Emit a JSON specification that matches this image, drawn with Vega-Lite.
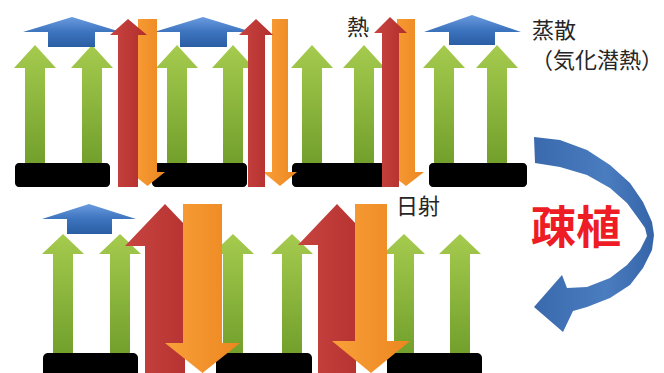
{
  "$schema": "https://vega.github.io/schema/vega-lite/v6.json",
  "width": 664,
  "height": 373,
  "autosize": {"type": "fit", "contains": "padding"},
  "padding": 0,
  "background": "#ffffff",
  "config": {"view": {"stroke": null}},
  "datasets": {
    "polys": [
      {"s":"g1","i":0,"x":25,"y":163},{"s":"g1","i":1,"x":25,"y":68},{"s":"g1","i":2,"x":14,"y":68},{"s":"g1","i":3,"x":35,"y":45},{"s":"g1","i":4,"x":56,"y":68},{"s":"g1","i":5,"x":45,"y":68},{"s":"g1","i":6,"x":45,"y":163},
      {"s":"g2","i":0,"x":82,"y":163},{"s":"g2","i":1,"x":82,"y":68},{"s":"g2","i":2,"x":71,"y":68},{"s":"g2","i":3,"x":92,"y":45},{"s":"g2","i":4,"x":113,"y":68},{"s":"g2","i":5,"x":102,"y":68},{"s":"g2","i":6,"x":102,"y":163},
      {"s":"g3","i":0,"x":167,"y":163},{"s":"g3","i":1,"x":167,"y":68},{"s":"g3","i":2,"x":156,"y":68},{"s":"g3","i":3,"x":177,"y":45},{"s":"g3","i":4,"x":198,"y":68},{"s":"g3","i":5,"x":187,"y":68},{"s":"g3","i":6,"x":187,"y":163},
      {"s":"g4","i":0,"x":223,"y":163},{"s":"g4","i":1,"x":223,"y":68},{"s":"g4","i":2,"x":212,"y":68},{"s":"g4","i":3,"x":233,"y":45},{"s":"g4","i":4,"x":254,"y":68},{"s":"g4","i":5,"x":243,"y":68},{"s":"g4","i":6,"x":243,"y":163},
      {"s":"g5","i":0,"x":302,"y":163},{"s":"g5","i":1,"x":302,"y":68},{"s":"g5","i":2,"x":291,"y":68},{"s":"g5","i":3,"x":312,"y":45},{"s":"g5","i":4,"x":333,"y":68},{"s":"g5","i":5,"x":322,"y":68},{"s":"g5","i":6,"x":322,"y":163},
      {"s":"g6","i":0,"x":354,"y":163},{"s":"g6","i":1,"x":354,"y":68},{"s":"g6","i":2,"x":343,"y":68},{"s":"g6","i":3,"x":364,"y":45},{"s":"g6","i":4,"x":385,"y":68},{"s":"g6","i":5,"x":374,"y":68},{"s":"g6","i":6,"x":374,"y":163},
      {"s":"g7","i":0,"x":434,"y":163},{"s":"g7","i":1,"x":434,"y":68},{"s":"g7","i":2,"x":423,"y":68},{"s":"g7","i":3,"x":444,"y":45},{"s":"g7","i":4,"x":465,"y":68},{"s":"g7","i":5,"x":454,"y":68},{"s":"g7","i":6,"x":454,"y":163},
      {"s":"g8","i":0,"x":487,"y":163},{"s":"g8","i":1,"x":487,"y":68},{"s":"g8","i":2,"x":476,"y":68},{"s":"g8","i":3,"x":497,"y":45},{"s":"g8","i":4,"x":518,"y":68},{"s":"g8","i":5,"x":507,"y":68},{"s":"g8","i":6,"x":507,"y":163},
      {"s":"g9","i":0,"x":53,"y":353},{"s":"g9","i":1,"x":53,"y":254},{"s":"g9","i":2,"x":42,"y":254},{"s":"g9","i":3,"x":63,"y":234},{"s":"g9","i":4,"x":84,"y":254},{"s":"g9","i":5,"x":73,"y":254},{"s":"g9","i":6,"x":73,"y":353},
      {"s":"g10","i":0,"x":110,"y":353},{"s":"g10","i":1,"x":110,"y":254},{"s":"g10","i":2,"x":99,"y":254},{"s":"g10","i":3,"x":120,"y":234},{"s":"g10","i":4,"x":141,"y":254},{"s":"g10","i":5,"x":130,"y":254},{"s":"g10","i":6,"x":130,"y":353},
      {"s":"g11","i":0,"x":223,"y":353},{"s":"g11","i":1,"x":223,"y":254},{"s":"g11","i":2,"x":212,"y":254},{"s":"g11","i":3,"x":233,"y":234},{"s":"g11","i":4,"x":254,"y":254},{"s":"g11","i":5,"x":243,"y":254},{"s":"g11","i":6,"x":243,"y":353},
      {"s":"g12","i":0,"x":282,"y":353},{"s":"g12","i":1,"x":282,"y":254},{"s":"g12","i":2,"x":271,"y":254},{"s":"g12","i":3,"x":292,"y":234},{"s":"g12","i":4,"x":313,"y":254},{"s":"g12","i":5,"x":302,"y":254},{"s":"g12","i":6,"x":302,"y":353},
      {"s":"g13","i":0,"x":394,"y":353},{"s":"g13","i":1,"x":394,"y":254},{"s":"g13","i":2,"x":383,"y":254},{"s":"g13","i":3,"x":404,"y":234},{"s":"g13","i":4,"x":425,"y":254},{"s":"g13","i":5,"x":414,"y":254},{"s":"g13","i":6,"x":414,"y":353},
      {"s":"g14","i":0,"x":450,"y":353},{"s":"g14","i":1,"x":450,"y":254},{"s":"g14","i":2,"x":439,"y":254},{"s":"g14","i":3,"x":460,"y":234},{"s":"g14","i":4,"x":481,"y":254},{"s":"g14","i":5,"x":470,"y":254},{"s":"g14","i":6,"x":470,"y":353},
      {"s":"b1","i":0,"x":23,"y":32},{"s":"b1","i":1,"x":72,"y":17},{"s":"b1","i":2,"x":121,"y":32},{"s":"b1","i":3,"x":95,"y":32},{"s":"b1","i":4,"x":95,"y":47},{"s":"b1","i":5,"x":48,"y":47},{"s":"b1","i":6,"x":48,"y":32},
      {"s":"b2","i":0,"x":154,"y":32},{"s":"b2","i":1,"x":203,"y":17},{"s":"b2","i":2,"x":252,"y":32},{"s":"b2","i":3,"x":227,"y":32},{"s":"b2","i":4,"x":227,"y":47},{"s":"b2","i":5,"x":180,"y":47},{"s":"b2","i":6,"x":180,"y":32},
      {"s":"b3","i":0,"x":424,"y":32},{"s":"b3","i":1,"x":472,"y":15},{"s":"b3","i":2,"x":521,"y":32},{"s":"b3","i":3,"x":495,"y":32},{"s":"b3","i":4,"x":495,"y":45},{"s":"b3","i":5,"x":449,"y":45},{"s":"b3","i":6,"x":449,"y":32},
      {"s":"b4","i":0,"x":42,"y":219},{"s":"b4","i":1,"x":89,"y":204},{"s":"b4","i":2,"x":136,"y":219},{"s":"b4","i":3,"x":112,"y":219},{"s":"b4","i":4,"x":112,"y":234},{"s":"b4","i":5,"x":67,"y":234},{"s":"b4","i":6,"x":67,"y":219},
      {"s":"r1","i":0,"x":118,"y":187},{"s":"r1","i":1,"x":118,"y":35},{"s":"r1","i":2,"x":110,"y":35},{"s":"r1","i":3,"x":128,"y":19},{"s":"r1","i":4,"x":147,"y":35},{"s":"r1","i":5,"x":138,"y":35},{"s":"r1","i":6,"x":138,"y":187},
      {"s":"r2","i":0,"x":248,"y":187},{"s":"r2","i":1,"x":248,"y":35},{"s":"r2","i":2,"x":239,"y":35},{"s":"r2","i":3,"x":256,"y":19},{"s":"r2","i":4,"x":273,"y":35},{"s":"r2","i":5,"x":265,"y":35},{"s":"r2","i":6,"x":265,"y":187},
      {"s":"r3","i":0,"x":382,"y":187},{"s":"r3","i":1,"x":382,"y":33},{"s":"r3","i":2,"x":374,"y":33},{"s":"r3","i":3,"x":390,"y":17},{"s":"r3","i":4,"x":407,"y":33},{"s":"r3","i":5,"x":399,"y":33},{"s":"r3","i":6,"x":399,"y":187},
      {"s":"r4","i":0,"x":145,"y":373},{"s":"r4","i":1,"x":145,"y":246},{"s":"r4","i":2,"x":125,"y":246},{"s":"r4","i":3,"x":165,"y":204},{"s":"r4","i":4,"x":205,"y":246},{"s":"r4","i":5,"x":185,"y":246},{"s":"r4","i":6,"x":185,"y":373},
      {"s":"r5","i":0,"x":318,"y":373},{"s":"r5","i":1,"x":318,"y":245},{"s":"r5","i":2,"x":298,"y":245},{"s":"r5","i":3,"x":337,"y":204},{"s":"r5","i":4,"x":376,"y":245},{"s":"r5","i":5,"x":356,"y":245},{"s":"r5","i":6,"x":356,"y":373},
      {"s":"o1","i":0,"x":138,"y":19},{"s":"o1","i":1,"x":157,"y":19},{"s":"o1","i":2,"x":157,"y":172},{"s":"o1","i":3,"x":165,"y":172},{"s":"o1","i":4,"x":147.5,"y":186},{"s":"o1","i":5,"x":130,"y":172},{"s":"o1","i":6,"x":138,"y":172},
      {"s":"o2","i":0,"x":272,"y":19},{"s":"o2","i":1,"x":288,"y":19},{"s":"o2","i":2,"x":288,"y":172},{"s":"o2","i":3,"x":297,"y":172},{"s":"o2","i":4,"x":280,"y":186},{"s":"o2","i":5,"x":263,"y":172},{"s":"o2","i":6,"x":272,"y":172},
      {"s":"o3","i":0,"x":397,"y":19},{"s":"o3","i":1,"x":415,"y":19},{"s":"o3","i":2,"x":415,"y":172},{"s":"o3","i":3,"x":424,"y":172},{"s":"o3","i":4,"x":406,"y":186},{"s":"o3","i":5,"x":388,"y":172},{"s":"o3","i":6,"x":397,"y":172},
      {"s":"o4","i":0,"x":183,"y":204},{"s":"o4","i":1,"x":222,"y":204},{"s":"o4","i":2,"x":222,"y":343},{"s":"o4","i":3,"x":240,"y":343},{"s":"o4","i":4,"x":202.5,"y":373},{"s":"o4","i":5,"x":165,"y":343},{"s":"o4","i":6,"x":183,"y":343},
      {"s":"o5","i":0,"x":355,"y":204},{"s":"o5","i":1,"x":387,"y":204},{"s":"o5","i":2,"x":387,"y":341},{"s":"o5","i":3,"x":410,"y":341},{"s":"o5","i":4,"x":371,"y":373},{"s":"o5","i":5,"x":332,"y":341},{"s":"o5","i":6,"x":355,"y":341},
      {"s":"c1","i":0,"x":534,"y":137},{"s":"c1","i":1,"x":560,"y":140},{"s":"c1","i":2,"x":587,"y":150},{"s":"c1","i":3,"x":610,"y":165},{"s":"c1","i":4,"x":630,"y":183},{"s":"c1","i":5,"x":643,"y":202},{"s":"c1","i":6,"x":652,"y":222},{"s":"c1","i":7,"x":654,"y":235},{"s":"c1","i":8,"x":652,"y":250},{"s":"c1","i":9,"x":643,"y":268},{"s":"c1","i":10,"x":630,"y":285},{"s":"c1","i":11,"x":610,"y":298},{"s":"c1","i":12,"x":587,"y":307},{"s":"c1","i":13,"x":573,"y":311},{"s":"c1","i":14,"x":563,"y":332},{"s":"c1","i":15,"x":534,"y":307},{"s":"c1","i":16,"x":562,"y":275},{"s":"c1","i":17,"x":567,"y":288},{"s":"c1","i":18,"x":587,"y":287},{"s":"c1","i":19,"x":610,"y":278},{"s":"c1","i":20,"x":627,"y":265},{"s":"c1","i":21,"x":640,"y":250},{"s":"c1","i":22,"x":647,"y":236},{"s":"c1","i":23,"x":645,"y":228},{"s":"c1","i":24,"x":638,"y":218},{"s":"c1","i":25,"x":627,"y":203},{"s":"c1","i":26,"x":610,"y":188},{"s":"c1","i":27,"x":587,"y":175},{"s":"c1","i":28,"x":560,"y":167},{"s":"c1","i":29,"x":535,"y":163}
    ],
    "bases": [
      {"row":"top","x":15,"x2":110,"y":163,"y2":187},
      {"row":"top","x":152,"x2":247,"y":163,"y2":187},
      {"row":"top","x":292,"x2":385,"y":163,"y2":187},
      {"row":"top","x":429,"x2":527,"y":163,"y2":187},
      {"row":"bottom","x":43,"x2":138,"y":353,"y2":373},
      {"row":"bottom","x":216,"x2":312,"y":353,"y2":373},
      {"row":"bottom","x":387,"x2":482,"y":353,"y2":373}
    ],
    "labels": [
      {"t":"熱","x":347,"y":28},
      {"t":"蒸散","x":532,"y":31},
      {"t":"（気化潜熱）","x":531,"y":61},
      {"t":"日射","x":396,"y":207}
    ],
    "title": [
      {"t":"疎植","x":531,"y":230}
    ]
  },
  "encoding": {
    "x": {"field": "x", "type": "quantitative", "scale": {"domain": [0, 664], "zero": false, "nice": false}, "axis": null},
    "y": {"field": "y", "type": "quantitative", "scale": {"domain": [0, 373], "zero": false, "nice": false, "reverse": true}, "axis": null}
  },
  "layer": [
    {
      "data": {"name": "bases"},
      "transform": [{"filter": "datum.row === 'top'"}],
      "mark": {"type": "rect", "color": "#000000", "cornerRadius": 4},
      "encoding": {"x2": {"field": "x2"}, "y2": {"field": "y2"}}
    },
    {
      "data": {"name": "bases"},
      "transform": [{"filter": "datum.row === 'bottom'"}],
      "mark": {"type": "rect", "color": "#000000", "cornerRadiusTopLeft": 5, "cornerRadiusTopRight": 5},
      "encoding": {"x2": {"field": "x2"}, "y2": {"field": "y2"}}
    },
    {
      "data": {"name": "polys"},
      "transform": [{"filter": "indexof(datum.s, 'g') === 0"}],
      "mark": {"type": "line", "interpolate": "linear-closed", "strokeWidth": 0,
        "fill": {"gradient": "linear", "x1": 0, "y1": 0, "x2": 0, "y2": 1, "stops": [{"offset": 0, "color": "#a5cb4e"}, {"offset": 1, "color": "#72a02c"}]}},
      "encoding": {"detail": {"field": "s"}, "order": {"field": "i", "type": "quantitative"}}
    },
    {
      "data": {"name": "polys"},
      "transform": [{"filter": "indexof(datum.s, 'b') === 0"}],
      "mark": {"type": "line", "interpolate": "linear-closed", "strokeWidth": 0,
        "fill": {"gradient": "linear", "x1": 0, "y1": 0, "x2": 0, "y2": 1, "stops": [{"offset": 0, "color": "#6a9be0"}, {"offset": 0.5, "color": "#3d74be"}, {"offset": 1, "color": "#2a5ea4"}]}},
      "encoding": {"detail": {"field": "s"}, "order": {"field": "i", "type": "quantitative"}}
    },
    {
      "data": {"name": "polys"},
      "transform": [{"filter": {"field": "s", "oneOf": ["o1", "o2", "o3"]}}],
      "mark": {"type": "line", "interpolate": "linear-closed", "strokeWidth": 0,
        "fill": {"gradient": "linear", "x1": 0, "y1": 0, "x2": 1, "y2": 0, "stops": [{"offset": 0, "color": "#f9a03a"}, {"offset": 1, "color": "#ec861f"}]}},
      "encoding": {"detail": {"field": "s"}, "order": {"field": "i", "type": "quantitative"}}
    },
    {
      "data": {"name": "polys"},
      "transform": [{"filter": "indexof(datum.s, 'r') === 0"}],
      "mark": {"type": "line", "interpolate": "linear-closed", "strokeWidth": 0,
        "fill": {"gradient": "linear", "x1": 0, "y1": 0, "x2": 1, "y2": 0, "stops": [{"offset": 0, "color": "#c84441"}, {"offset": 1, "color": "#b12e2c"}]}},
      "encoding": {"detail": {"field": "s"}, "order": {"field": "i", "type": "quantitative"}}
    },
    {
      "data": {"name": "polys"},
      "transform": [{"filter": {"field": "s", "oneOf": ["o4", "o5"]}}],
      "mark": {"type": "line", "interpolate": "linear-closed", "strokeWidth": 0,
        "fill": {"gradient": "linear", "x1": 0, "y1": 0, "x2": 1, "y2": 0, "stops": [{"offset": 0, "color": "#f9a03a"}, {"offset": 1, "color": "#ec861f"}]}},
      "encoding": {"detail": {"field": "s"}, "order": {"field": "i", "type": "quantitative"}}
    },
    {
      "data": {"name": "polys"},
      "transform": [{"filter": "datum.s === 'c1'"}],
      "mark": {"type": "line", "interpolate": "linear-closed", "strokeWidth": 0,
        "fill": {"gradient": "linear", "x1": 0, "y1": 0, "x2": 1, "y2": 0, "stops": [{"offset": 0, "color": "#3a6aad"}, {"offset": 0.6, "color": "#4a7cc0"}, {"offset": 1, "color": "#3565a8"}]}},
      "encoding": {"detail": {"field": "s"}, "order": {"field": "i", "type": "quantitative"}}
    },
    {
      "data": {"name": "labels"},
      "mark": {"type": "text", "align": "left", "baseline": "middle", "font": "Noto Sans CJK JP", "fontSize": 22, "color": "#262626"},
      "encoding": {"text": {"field": "t"}}
    },
    {
      "data": {"name": "title"},
      "mark": {"type": "text", "align": "left", "baseline": "middle", "font": "Noto Sans CJK JP", "fontSize": 45, "fontWeight": "bold", "color": "#ee1c25"},
      "encoding": {"text": {"field": "t"}}
    }
  ]
}
